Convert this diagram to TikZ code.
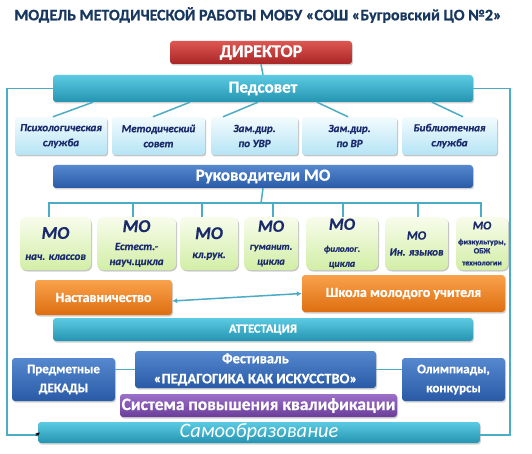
\documentclass[tikz,border=0pt]{standalone}
\usepackage{fontspec}
\setmainfont{Carlito}[BoldFeatures={FakeBold=0.7},BoldItalicFeatures={FakeBold=0.7}]
\usetikzlibrary{shadows,arrows.meta,calc}
\definecolor{navy}{HTML}{17375E}
\definecolor{txtnavy}{HTML}{1A2A6C}
\definecolor{redT}{HTML}{DD5652}
\definecolor{redB}{HTML}{A92626}
\definecolor{tealT}{HTML}{5CCAE2}
\definecolor{tealB}{HTML}{2494B1}
\definecolor{blueT}{HTML}{5588CF}
\definecolor{blueB}{HTML}{2A5AA6}
\definecolor{orangeT}{HTML}{F9A24C}
\definecolor{orangeB}{HTML}{DE6E10}
\definecolor{purpleT}{HTML}{9C70C8}
\definecolor{purpleB}{HTML}{6A3D9A}
\definecolor{cyanT}{HTML}{F3FBFE}
\definecolor{cyanB}{HTML}{B5E4F4}
\definecolor{greenT}{HTML}{F8FCEC}
\definecolor{greenB}{HTML}{D2EEA6}
\definecolor{wire}{HTML}{4BACC6}
\newcommand\fsz[2]{\fontsize{#1}{#2}\selectfont}
\tikzset{
  base/.style={rounded corners=3pt, inner sep=1pt, align=center, text=white,
    font=\bfseries, drop shadow={opacity=0.35,shadow xshift=1pt,shadow yshift=-1.5pt}},
  redbox/.style={base, top color=redT, bottom color=redB},
  tealbox/.style={base, top color=tealT, bottom color=tealB},
  bluebox/.style={base, top color=blueT, bottom color=blueB},
  orangebox/.style={base, top color=orangeT, bottom color=orangeB},
  purplebox/.style={base, top color=purpleT, bottom color=purpleB},
  cyanbox/.style={base, top color=cyanT, bottom color=cyanB, text=txtnavy,
    font=\bfseries\itshape\fsz{11}{15}, drop shadow={opacity=0.15,shadow xshift=1pt,shadow yshift=-1pt}},
  greenbox/.style={base, rounded corners=6pt, top color=greenT, bottom color=greenB, text=txtnavy,
    font=\bfseries\itshape\fsz{11}{15}, drop shadow={opacity=0.15,shadow xshift=1pt,shadow yshift=-1pt}},
  wireline/.style={draw=wire, line width=1.5pt},
}
\begin{document}
\begin{tikzpicture}[x=1pt,y=-1pt]
\useasboundingbox[fill=white] (0,0) rectangle (532,454);
% title
\node[font=\bfseries\fsz{16}{18}, text=navy] (title) at (258,15)
  {МОДЕЛЬ МЕТОДИЧЕСКОЙ РАБОТЫ МОБУ «СОШ «Бугровский ЦО №2»};
% director, pedsovet
\node[redbox, minimum width=182, minimum height=23, font=\bfseries\fsz{18}{20}] (dir) at (261,52.5) {ДИРЕКТОР};
\node[tealbox, minimum width=420, minimum height=27, font=\bfseries\fsz{17}{20}] (ped) at (263,88.5) {Педсовет};
% services row
\node[cyanbox, minimum width=92, minimum height=38] (s1) at (61,136) {Психологическая\\служба};
\node[cyanbox, minimum width=93, minimum height=38] (s2) at (158.5,136) {Методический\\совет};
\node[cyanbox, minimum width=87, minimum height=38] (s3) at (254.5,136) {Зам.дир.\\по УВР};
\node[cyanbox, minimum width=95, minimum height=38] (s4) at (349.5,136) {Зам.дир.\\по ВР};
\node[cyanbox, minimum width=95, minimum height=38] (s5) at (449.5,136) {Библиотечная\\служба};
% rukovoditeli
\node[bluebox, minimum width=420, minimum height=23, font=\bfseries\fsz{17}{20}] (ruk) at (263,176.5) {Руководители МО};
% MO row
\node[greenbox, minimum width=71, minimum height=53] (m1) at (55.5,243.5) {{\fsz{18}{20}МО}\\[6pt]{\fsz{11}{13}нач. классов}};
\node[greenbox, minimum width=79, minimum height=53] (m2) at (136.5,243.5) {{\fsz{18}{20}МО}\\[3pt]Естест.-\\науч.цикла};
\node[greenbox, minimum width=58, minimum height=53] (m3) at (209,243.5) {{\fsz{18}{20}МО}\\[4pt]кл.рук.};
\node[greenbox, minimum width=54, minimum height=53] (m4) at (271,243.5) {{\fsz{17}{20}МО}\\[3pt]{\fsz{10}{13}гуманит.}\\{\fsz{10.5}{13}цикла}};
\node[greenbox, minimum width=72, minimum height=53] (m5) at (342,243.5) {{\fsz{17}{20}МО}\\[7pt]{\fsz{9}{13}филолог.}\\{\fsz{10}{13}цикла}};
\node[greenbox, minimum width=63, minimum height=53] (m6) at (416.5,243.5) {{\fsz{12.5}{14}МО}\\[1pt]Ин. языков};
\node[greenbox, minimum width=52, minimum height=53, font=\bfseries\fsz{8}{9}] (m7) at (482,243.5) {{\itshape\fsz{12}{14}МО}\\[6pt]физкультуры,\\ОБЖ\\[3pt]технологии};
% orange
\node[orangebox, minimum width=137, minimum height=35, font=\bfseries\fsz{14}{16}] (nast) at (103.5,297.5) {Наставничество};
\node[orangebox, minimum width=203, minimum height=37, font=\bfseries\fsz{14}{16}] (shk) at (403.5,293.5) {Школа молодого учителя};
% attestation
\node[tealbox, minimum width=420, minimum height=23, font=\bfseries\fsz{12.5}{14}] (att) at (263,329.5) {АТТЕСТАЦИЯ};
% festival row
\node[bluebox, minimum width=241, minimum height=37, font=\bfseries\fsz{14.5}{20}] (fest) at (255.5,369.5) {Фестиваль\\«ПЕДАГОГИКА КАК ИСКУССТВО»};
\node[bluebox, minimum width=103, minimum height=43, font=\bfseries\fsz{13}{19}] (dek) at (63.5,379.5) {Предметные\\ДЕКАДЫ};
\node[bluebox, minimum width=103, minimum height=43, font=\bfseries\fsz{13}{19}] (olim) at (453.5,379.5) {Олимпиады,\\конкурсы};
% system
\node[purplebox, minimum width=277, minimum height=23, font=\bfseries\fsz{17.5}{18}] (sys) at (258.5,405.5) {Система повышения квалификации};
\node[tealbox, minimum width=442, minimum height=21, font=\itshape\fsz{20.5}{20}] (samo) at (259,432.5) {Самообразование};
% connectors
\draw[wireline] (dir.south) -- (ped.north);
\draw[wireline] ([xshift=-170pt]ped.south) -- ([xshift=-8pt]s1.north);
\draw[wireline] ([xshift=-73pt]ped.south) -- ([xshift=-5.5pt]s2.north);
\draw[wireline] ([xshift=-5pt]ped.south) -- ([xshift=-31.5pt]s3.north);
\draw[wireline] ([xshift=54pt]ped.south) -- ([xshift=-1.5pt]s4.north);
\draw[wireline] ([xshift=169pt]ped.south) -- ([xshift=13.5pt]s5.north);
\coordinate (bus) at (261,203);
\draw[wireline] (ruk.south) -- (bus);
\draw[wireline] ([xshift=-6.5pt]m1.north) |- (bus);
\draw[wireline] ([xshift=-3.5pt]m2.north) |- (bus);
\draw[wireline] ([xshift=-7pt]m3.north) |- (bus);
\draw[wireline] ([xshift=2pt]m4.north) |- (bus);
\draw[wireline] ([xshift=1pt]m5.north) |- (bus);
\draw[wireline] ([xshift=1.5pt]m6.north) |- (bus);
\draw[wireline] ([xshift=-1pt]m7.north) |- (bus);
\draw[wireline, {Latex[length=5pt,width=5pt]}-{Latex[length=5pt,width=5pt]}] ([yshift=-3.5pt]nast.east) -- (shk.west);
\draw[wireline, line width=1pt] (dek.east |- fest.west) -- (fest.west);
\draw[wireline, line width=1pt] (fest.east) -- (fest.east -| olim.west);
% outer frame
\coordinate (fbl) at (7,435);
\coordinate (fbr) at (510,435);
\draw[wireline] (ped.west) -| (fbl) -- (fbl -| samo.west);
\draw[wireline] (ped.east) -| (fbr) -- (fbr -| samo.east);
\draw[black, line width=0.8pt, -{Stealth[length=4pt,width=4pt]}] ([shift={(-2pt,-3pt)}]samo.west) -- ([shift={(2pt,0pt)}]samo.west);
\end{tikzpicture}
\end{document}
